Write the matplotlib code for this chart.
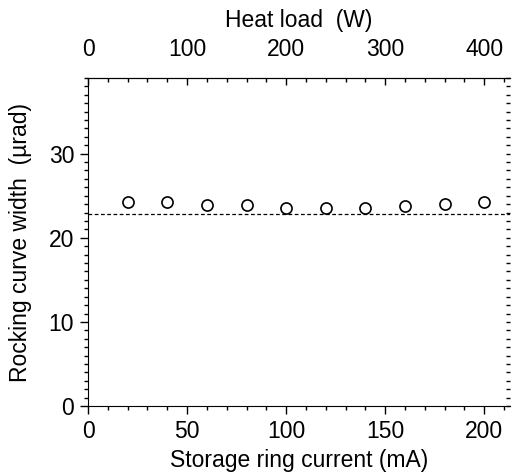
import matplotlib

matplotlib.use("Agg")
import matplotlib.pyplot as plt
from matplotlib.ticker import MultipleLocator, FixedLocator

plt.rcParams["font.family"] = ["Liberation Sans", "DejaVu Sans"]

# storage ring current (mA) and measured rocking curve width (urad)
current = [20, 40, 60, 80, 100, 120, 140, 160, 180, 200]
width = [24.2, 24.2, 23.9, 23.9, 23.5, 23.6, 23.5, 23.8, 24.0, 24.2]
theory_width = 22.8  # dashed reference level
heat_ticks = [0, 100, 200, 300, 400]

fig = plt.figure(figsize=(5.12, 4.75), dpi=100)
ax = fig.add_axes([0.172, 0.145, 0.824, 0.691])

ax.plot(current, width, linestyle="none", marker="o", markersize=8,
        markerfacecolor="white", markeredgecolor="black", markeredgewidth=1.2)
ax.axhline(theory_width, color="black", linestyle=(0, (3, 2)), linewidth=0.9)

ax.set_xlim(0, 213)
ax.set_ylim(0, 39)
ax.xaxis.set_major_locator(MultipleLocator(50))
ax.xaxis.set_minor_locator(MultipleLocator(10))
ax.yaxis.set_major_locator(MultipleLocator(10))
ax.yaxis.set_minor_locator(MultipleLocator(1))

ax.spines["right"].set_visible(False)
ax.tick_params(axis="both", which="major", direction="out", length=6,
               width=1, labelsize=16.5, pad=4)
ax.tick_params(axis="both", which="minor", direction="out", length=3, width=1)
ax.yaxis.set_tick_params(which="both", right=True)

# right side ticks point inward
for tick in ax.yaxis.get_major_ticks() + ax.yaxis.get_minor_ticks():
    tick.tick2line.set_marker(0)
    tick.tick2line.set_markersize(3)

ax.set_xlabel("Storage ring current (mA)", fontsize=16.5, labelpad=4)
ax.set_ylabel("Rocking curve width  (\u00b5rad)", fontsize=16.5, labelpad=12)

# top axis: heat load is twice the current
top = ax.secondary_xaxis("top", functions=(lambda x: x * 2, lambda x: x / 2))
top.xaxis.set_major_locator(FixedLocator(heat_ticks))
top.xaxis.set_minor_locator(MultipleLocator(20))
top.tick_params(which="major", direction="in", length=5, width=1,
                labelsize=16.5, pad=12)
top.tick_params(which="minor", direction="in", length=3, width=1)
top.set_xlabel("Heat load  (W)", fontsize=16.5, labelpad=8)

plt.savefig("out.png", dpi=100)
